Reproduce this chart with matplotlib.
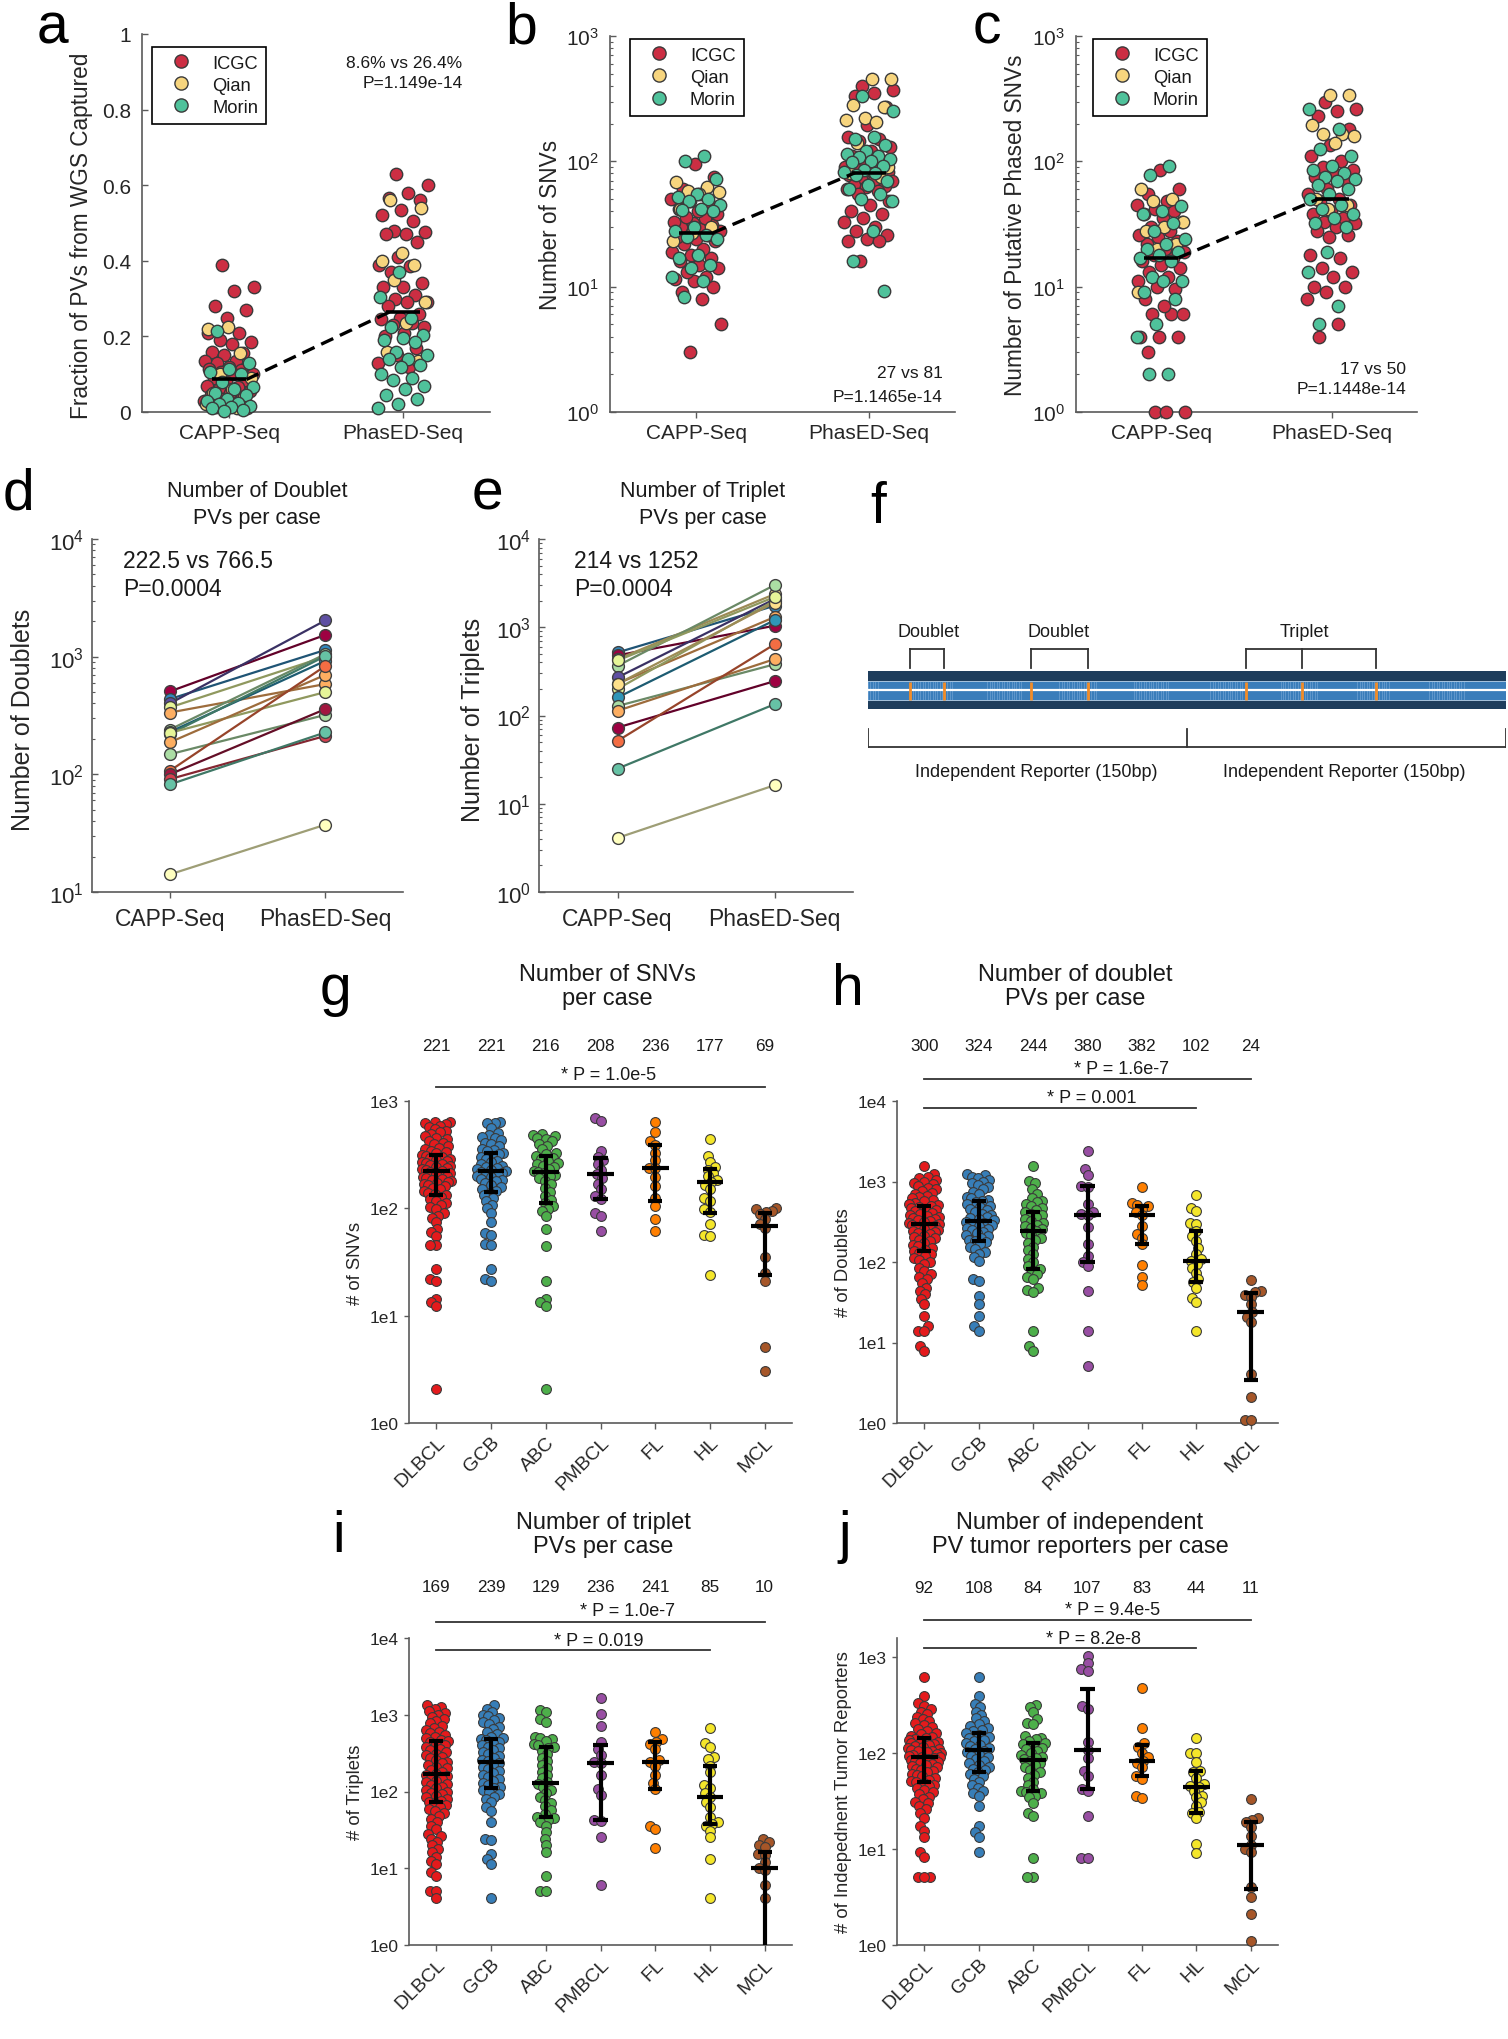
import numpy as np
import matplotlib
matplotlib.use('Agg')
import matplotlib.pyplot as plt
from matplotlib.transforms import blended_transform_factory
from matplotlib.lines import Line2D
from matplotlib.patches import Rectangle
from matplotlib.ticker import FixedLocator, NullLocator, LogLocator, NullFormatter

# ===================== DATA =====================
seq_labels = ['CAPP-Seq', 'PhasED-Seq']
cohorts = ['ICGC', 'Qian', 'Morin']
cohort_colors = ['#CC2E43', '#F7D57E', '#4FC29B']

# panel a: fraction of PVs from WGS captured
a_capp_icgc = [0.39,0.33,0.32,0.28,0.27,0.25,0.21,0.21,0.19,0.185,0.18,0.16,0.155,0.15,0.135,0.135,0.13,0.125,0.12,0.115,0.11,0.105,0.10,0.10,0.09,0.085,0.08,0.07,0.065,0.06,0.055,0.05,0.045,0.04,0.035,0.03,0.02,0.013,0.01]
a_capp_qian = [0.225,0.22,0.155,0.10,0.09,0.06,0.05,0.04,0.025,0.02,0.01]
a_capp_morin = [0.215,0.13,0.115,0.105,0.10,0.08,0.065,0.06,0.05,0.045,0.035,0.03,0.025,0.02,0.015,0.012,0.01,0.005,0.003]
a_phased_icgc = [0.63,0.60,0.58,0.565,0.56,0.535,0.52,0.505,0.48,0.475,0.47,0.47,0.45,0.41,0.39,0.385,0.37,0.34,0.33,0.33,0.31,0.30,0.29,0.29,0.28,0.26,0.25,0.245,0.235,0.23,0.225,0.21,0.20,0.17,0.15,0.13,0.12]
a_phased_qian = [0.56,0.54,0.42,0.40,0.39,0.35,0.29,0.235,0.16,0.135]
a_phased_morin = [0.37,0.305,0.25,0.225,0.205,0.195,0.19,0.185,0.16,0.15,0.14,0.14,0.125,0.12,0.10,0.09,0.085,0.07,0.06,0.045,0.035,0.02,0.01]
a_medians = [0.086, 0.264]
a_stats = ['8.6% vs 26.4%', 'P=1.149e-14']

# panel b: number of SNVs
b_capp_icgc = [3.0,5.0,8.0,9.0,10,11,11.5,12,13,14,15,16,17,18,19,20,22,23,24,25,26,27,28,29,30,31,32,33,35,36,38,40,42,45,48,50,55,60,75,95]
b_capp_qian = [68,62,58,57,55,42,30,27,23]
b_capp_morin = [110,100,72,55,52,50,48,45,42,41,40,30,28,26,25,24,18,17,15,14,12,11,8.2]
b_phased_icgc = [400,370,350,330,270,195,155,150,145,130,120,110,100,95,90,88,85,82,80,78,75,72,70,68,65,63,62,60,58,55,48,45,40,38,35,33,30,28,26,24,23,23,16]
b_phased_qian = [450,450,280,270,220,215,205,140,90,85,80,75]
b_phased_morin = [330,250,155,150,135,120,115,110,108,105,100,98,92,85,82,80,78,70,65,60,55,50,48,28,16,9.2]
b_medians = [27, 81]
b_stats = ['27 vs 81', 'P=1.1465e-14']

# panel c: number of putative phased SNVs
c_capp_icgc = [1,1,1,3,4,4,4,6,6,6,7,8,9.5,10,11,12,13,14,15,16,17,18,19,20,22,23,25,26,28,30,33,35,38,40,42,45,48,55,60,85]
c_capp_qian = [60,50,48,33,30,28,22,20,9]
c_capp_morin = [92,78,44,40,38,32,28,24,22,20,19,18,17,16,12,11,11,9,8,5,4,2,2]
c_phased_icgc = [300,260,250,230,180,135,110,100,90,85,80,75,70,60,55,50,48,45,40,38,35,33,32,30,28,26,25,18,17,14,13,12,10,10,9,8,5,4]
c_phased_qian = [340,340,195,165,165,160,140,50,45,42]
c_phased_morin = [260,180,125,110,92,85,80,75,72,70,65,60,55,50,45,42,38,35,32,30,19,13,7,5]
c_medians = [17, 50]
c_stats = ['17 vs 50', 'P=1.1448e-14']

# panel d: doublets per case (paired)
d_capp = [506, 436, 400, 370, 335, 240, 229, 220, 225, 187, 148, 107, 100, 91, 82, 14.1]
d_phased = [1530, 1140, 2030, 1000, 585, 1050, 920, 1010, 500, 700, 320, 833, 358, 212, 227, 37.3]
d_colors = ['#9E0142', '#3288BD', '#5E4FA2', '#E6F598', '#FDAE61', '#ABDDA4', '#2F95B8', '#66C2A5',
            '#E6F598', '#FDAE61', '#ABDDA4', '#F46D43', '#A2163F', '#D53E4F', '#66C2A5', '#FFFFBF']
d_stats = ['222.5 vs 766.5', 'P=0.0004']

# panel e: triplets per case (paired)
e_capp = [518, 480, 435, 365, 270, 230, 200, 160, 128, 113, 73, 51.5, 25, 4.1, 228, 420]
e_phased = [1750, 1040, 2370, 3000, 2080, 1304, 2000, 1200, 380, 435, 245, 640, 134, 16.2, 1900, 2200]
e_colors = ['#3288BD', '#9E0142', '#FEE08B', '#ABDDA4', '#5E4FA2', '#FDAE61', '#E6F598', '#2F95B8',
            '#ABDDA4', '#FDAE61', '#9E0142', '#F46D43', '#66C2A5', '#FFFFBF', '#FEE08B', '#E6F598']
e_stats = ['214 vs 1252', 'P=0.0004']

# panel f: schematic (positions in bp along two 150 bp reporters)
f_variant_pos = [19.7, 35.8, 76.6, 103.3, 177.8, 203.9, 238.7]
f_group_labels = ['Doublet', 'Doublet', 'Triplet']
f_group_members = [[19.7, 35.8], [76.6, 103.3], [177.8, 203.9, 238.7]]
f_group_label_x = [28.7, 89.8, 205.0]
f_reporter_edges = [0, 150, 300]
f_reporter_label_x = [79, 224]
f_reporter_label = 'Independent Reporter (150bp)'
f_stripe_regions = [(0, 5), (20, 40), (56, 73), (90, 108), (125, 142), (161, 177), (194, 212), (230, 246), (264, 281)]

# panels g-j: per-case counts by lymphoma subtype
cat_labels = ['DLBCL', 'GCB', 'ABC', 'PMBCL', 'FL', 'HL', 'MCL']
cat_colors = ['#E41A1C', '#377EB8', '#4DAF4A', '#984EA3', '#FF7F00', '#F4E62A', '#A65628']

g_dlbcl = [640,635,625,610,590,570,550,530,510,490,470,455,440,425,410,395,380,368,356,345,335,325,316,
           310,303,296,289,282,276,270,264,258,252,246,241,236,231,226,221,
           217,212,207,202,197,193,189,185,181,177,173,169,165,160,155,150,145,140,136,132,
           128,123,118,113,108,103,98,91,85,82,74,64,60,55,46,46,27,22,21,14.3,13.3,12.4,2.07]
g_gcb = [640,630,620,560,500,480,460,450,430,410,400,380,360,350,340,
         326,318,308,298,288,278,268,258,250,243,237,231,226,222,
         219,214,209,204,199,194,189,184,178,172,165,158,151,145,
         140,132,124,116,108,101,91,74,59,57,47,46,27,22,21]
g_abc = [490,480,470,455,440,420,400,380,355,330,318,
         306,296,286,276,266,257,249,241,233,225,218,
         212,205,198,190,180,168,155,142,130,120,
         112,105,99,95,85,64,45,21,14.3,13.3,12.4,2.07]
g_pmbcl = [700,650,340,300,280,260,230,208,190,170,150,130,123,90,85,61]
g_fl = [640,510,420,390,330,280,240,236,195,162,126,105,79,62]
g_hl = [440,308,270,245,230,215,200,185,177,165,150,126,118,98,92,71,57,55,24]
g_mcl = [101,98,95,92,88,80,72,66,35,25,21,5.06,3.07]
g_med = [221, 221, 216, 208, 236, 177, 69]
g_q1 = [132, 142, 112, 123, 117, 91, 24]
g_q3 = [314, 326, 308, 297, 387, 231, 91]

h_dlbcl = [1560,1230,1150,1100,1050,1000,960,920,880,840,800,765,730,700,670,640,615,590,565,545,525,510,
           497,485,470,455,440,425,412,400,388,376,365,355,345,335,325,316,308,300,
           292,284,276,268,260,252,244,236,228,220,212,204,196,188,180,172,164,156,148,142,
           136,130,124,118,112,106,100,94,85,78,70,65,61,55,48,44,40,35,30,21.5,16.1,14,14,9.1,7.9]
h_gcb = [1230,1200,1150,1100,1050,1000,950,900,850,800,750,700,650,620,590,
         574,550,520,500,480,460,440,420,400,380,360,350,340,330,
         318,308,298,288,278,268,258,248,238,228,218,208,198,190,
         183,175,165,155,145,135,125,115,103,61,58,38,30,21.5,16.1,14]
h_abc = [1560,1010,950,800,700,620,580,550,520,495,470,440,
         420,400,380,360,340,320,305,290,278,265,255,
         240,228,214,200,185,170,155,140,125,110,100,90,
         83,78,70,65,61,48,45,42,14,9.1,7.9]
h_pmbcl = [2400,1420,1200,880,850,522,420,390,380,274,166,119,100,88,44,14,5.06]
h_fl = [865,537,510,490,460,420,382,281,220,200,166,91,66,51.5]
h_hl = [675,475,432,309,295,244,210,183,150,125,110,102,94,85,74,61,56,48,36,31.5,14]
h_mcl = [60,44,42,39,37,30,24,21,18,4.06,2.08,1.1,1.1]
h_med = [300, 324, 244, 380, 382, 102, 24]
h_q1 = [138, 183, 83, 100, 166, 55.7, 3.45]
h_q3 = [497, 574, 420, 881, 497, 244, 41]

i_dlbcl = [1325,1250,1180,1110,1050,990,930,870,820,770,720,680,640,605,575,545,520,495,470,455,
           440,420,400,380,362,345,328,312,297,283,270,257,245,233,222,211,200,190,180,170,
           165,158,151,144,138,132,126,120,115,110,105,100,96,92,88,84,80,76,73,
           70,66,62,59,56,52,48,44,40,36,32,28,26,24,22,19.8,18,16.2,14,12.5,11.4,9,8,5.1,5.1,4.06]
i_gcb = [1325,1200,1100,1000,950,900,850,800,750,700,650,600,560,520,500,
         486,465,445,425,405,385,365,345,325,305,290,275,260,248,
         236,222,210,198,187,176,166,156,146,137,128,120,114,
         110,104,98,92,86,80,72,63,56,40,24,23,15.4,13.3,11.4,4.06]
i_abc = [1140,1100,870,800,520,500,480,450,420,400,385,
         370,340,305,275,248,224,202,182,164,148,134,
         124,114,104,95,86,78,71,64,57,51,
         46,45,43,40,36,29.5,24,19.8,16.2,8,5.1,5.1]
i_pmbcl = [1650,1030,710,440,360,300,240,233,162,108,90,42,41,25.4,6.06]
i_fl = [594,480,440,410,360,254,241,218,162,130,108,36,32,18.3]
i_hl = [670,430,379,280,262,218,178,122,112,95,85,72.6,62.6,46,40,37.9,36,30.9,25.4,13.2,4.06]
i_mcl = [24.1,22,20.2,19,15.4,15,12,10,9.5,6.06,4.06]
i_med = [169, 239, 129, 236, 241, 85, 10]
i_q1 = [72.6, 110, 46.3, 42, 108, 37.9, 0.3]
i_q3 = [449, 486, 379, 406, 440, 218, 16.2]

j_dlbcl = [625,393,330,310,290,270,255,240,228,216,205,195,186,178,170,163,157,151,146,
           143,140,137,134,131,128,125,122,119,116,113,110,108,106,104,102,100,98,96,94,92,
           91,89,87,85,83,81,79,77,75,73,71,69,67,65,63,61,59,57,55,53,51,50,
           49,47,45,43,41,39,37,35,33,31,30,28,26,24,21.3,17.5,15.5,13.2,9.2,8.2,5.06,5.06,5.06]
j_gcb = [625,393,322,300,270,250,230,215,200,190,182,175,168,
         160,154,148,142,137,132,127,122,118,114,110,
         106,102,98,94,90,86,82,78,75,72,69,66,
         63,60,57,54,50,46,43,40,38,36,28,17.5,14.9,13.2,9.2]
j_abc = [320,305,265,225,205,200,150,145,140,135,128,
         124,119,114,109,104,100,96,92,89,86,
         83,79,75,71,67,63,59,55,50,46,42,
         40.4,39,38,36,34.5,30.5,24,22,8,5.06,5.06]
j_pmbcl = [1025,870,745,720,310,287,129,107,89.6,65,57,42,40,22.3,8,8]
j_fl = [480,184,126,115,101,90,83,78,71,58,54,35.3,34]
j_hl = [145,101,99,80,65,63,55,48,45,44,40,36,34.5,31,28,24.5,24,21.3,11.2,9.1]
j_mcl = [33.6,21.3,20,18.9,17,13.7,11,10,9.2,3.98,3.13,2.1,1.1]
j_med = [92, 108, 84, 107, 83, 44, 11]
j_q1 = [50, 63.6, 40.4, 42, 58, 24, 3.83]
j_q3 = [145, 163, 126, 461, 120, 65, 18.9]

# ===================== FIGURE =====================
plt.rcParams['font.family'] = ['Liberation Sans', 'DejaVu Sans']
plt.rcParams['mathtext.fontset'] = 'custom'
plt.rcParams['mathtext.rm'] = 'Liberation Sans'
plt.rcParams['mathtext.it'] = 'Liberation Sans:italic'
plt.rcParams['mathtext.bf'] = 'Liberation Sans:bold'

W, H = 1508, 2040
fig = plt.figure(figsize=(W / 100, H / 100), dpi=100)
fig.patch.set_facecolor('white')

TXT = '#1a1a1a'
TICKC = '#262626'
SPINE = '#5a5a5a'


def fx(px):
    return px / W


def fy(py):
    return 1 - py / H


def add_ax(l, t, r, b):
    return fig.add_axes([l / W, 1 - b / H, (r - l) / W, (b - t) / H])


def box_off(ax, lw=1.2):
    for s in ['top', 'right']:
        ax.spines[s].set_visible(False)
    for s in ['left', 'bottom']:
        ax.spines[s].set_color(SPINE)
        ax.spines[s].set_linewidth(lw)


def jitter_x(center, n, half):
    k = np.arange(n)
    return center + ((k * 0.6180339887 + 0.37) % 1.0 - 0.5) * 2 * half


def top_panel(ax, capp_groups, phased_groups, medians, logy, ylim, ylabel, leg_anchor):
    if logy:
        ax.set_yscale('log')
    ax.set_xlim(0.5, 2.5)
    ax.set_ylim(*ylim)
    for ci, groups in enumerate([capp_groups, phased_groups]):
        n_all = sum(len(g) for g in groups)
        xs = jitter_x(ci + 1, n_all, 0.145)
        start = 0
        for gi, g in enumerate(groups):
            n = len(g)
            ax.scatter(xs[start:start + n], g, s=80, c=cohort_colors[gi], edgecolors='#3a3a3a',
                       linewidths=1.0, zorder=3, clip_on=False)
            start += n
    for ci, m in enumerate(medians):
        ax.plot([ci + 1 - 0.1, ci + 1 + 0.1], [m, m], color='black', lw=2.6, zorder=6,
                solid_capstyle='butt')
    ax.plot([1.1, 1.92], medians, color='black', lw=2.4, ls=(0, (4, 2.2)), zorder=6)
    box_off(ax)
    ax.set_xticks([1, 2])
    ax.set_xticklabels(seq_labels)
    ax.tick_params(axis='x', direction='out', length=4, width=1, color=SPINE,
                   labelcolor=TICKC, labelsize=15, pad=4)
    ax.tick_params(axis='y', which='major', direction='in', length=4, width=1, color=SPINE,
                   labelcolor=TICKC, labelsize=15, pad=8)
    ax.tick_params(axis='y', which='minor', direction='in', length=2.5, width=0.8, color=SPINE)
    ax.set_ylabel(ylabel, fontsize=16.3, color=TICKC)
    handles = [Line2D([0], [0], marker='o', ls='', mfc=c, mec='#3a3a3a', mew=1.0, ms=9.5)
               for c in cohort_colors]
    leg = ax.legend(handles, cohorts, loc='upper left', bbox_to_anchor=leg_anchor,
                    borderaxespad=0, frameon=True, fancybox=False, edgecolor='black',
                    fontsize=13.2, handlelength=2.3, handletextpad=0.55, labelspacing=0.28,
                    borderpad=0.42, framealpha=1)
    leg.get_frame().set_linewidth(1.2)
    for t in leg.get_texts():
        t.set_color(TXT)


# ---------- panel a ----------
ax_a = add_ax(142, 35, 490, 413)
top_panel(ax_a, [a_capp_icgc, a_capp_qian, a_capp_morin], [a_phased_icgc, a_phased_qian, a_phased_morin],
          a_medians, False, (0, 1), 'Fraction of PVs from WGS Captured', (0.029, 0.966))
ax_a.set_yticks([0, 0.2, 0.4, 0.6, 0.8, 1])
ax_a.set_yticklabels(['0', '0.2', '0.4', '0.6', '0.8', '1'])
ax_a.yaxis.set_label_coords(-0.141, 0.47)
fig.text(fx(462), fy(63), a_stats[0], ha='right', va='center', fontsize=12.5, color=TXT)
fig.text(fx(463), fy(83), a_stats[1], ha='right', va='center', fontsize=12.5, color=TXT)

# ---------- panel b ----------
ax_b = add_ax(610, 37, 955, 413)
top_panel(ax_b, [b_capp_icgc, b_capp_qian, b_capp_morin], [b_phased_icgc, b_phased_qian, b_phased_morin],
          b_medians, True, (1, 1000), 'Number of SNVs', (0.058, 0.992))
ax_b.yaxis.set_major_locator(FixedLocator([1, 10, 100, 1000]))
ax_b.yaxis.set_label_coords(-0.139, 0.5)
fig.text(fx(943), fy(373), b_stats[0], ha='right', va='center', fontsize=12.5, color=TXT)
fig.text(fx(943), fy(397), b_stats[1], ha='right', va='center', fontsize=12.5, color=TXT)

# ---------- panel c ----------
ax_c = add_ax(1076, 37, 1417, 413)
top_panel(ax_c, [c_capp_icgc, c_capp_qian, c_capp_morin], [c_phased_icgc, c_phased_qian, c_phased_morin],
          c_medians, True, (1, 1000), 'Number of Putative Phased SNVs', (0.05, 0.992))
ax_c.yaxis.set_major_locator(FixedLocator([1, 10, 100, 1000]))
ax_c.yaxis.set_label_coords(-0.144, 0.5)
fig.text(fx(1406), fy(369), c_stats[0], ha='right', va='center', fontsize=12.5, color=TXT)
fig.text(fx(1406), fy(389), c_stats[1], ha='right', va='center', fontsize=12.5, color=TXT)


# ---------- panels d, e ----------
def darker(c, f=0.62):
    r, g, b = matplotlib.colors.to_rgb(c)
    return (r * f, g * f, b * f)


def paired_panel(ax, capp, phased, colors, ylim, yticks, ylabel, title, title_x, stats, stats_x):
    ax.set_yscale('log')
    ax.set_xlim(0.5, 2.5)
    ax.set_ylim(*ylim)
    for c0, c1, col in zip(capp, phased, colors):
        ax.plot([1, 2], [c0, c1], color=darker(col), lw=1.6, zorder=2)
    for c0, c1, col in zip(capp, phased, colors):
        ax.plot([1, 2], [c0, c1], ls='', marker='o', ms=8.5, mfc=col, mec='#404040', mew=1.0,
                zorder=3, clip_on=False)
    box_off(ax)
    ax.set_xticks([1, 2])
    ax.set_xticklabels(seq_labels)
    ax.yaxis.set_major_locator(FixedLocator(yticks))
    ax.yaxis.set_minor_locator(LogLocator(base=10, subs=np.arange(2, 10)))
    ax.yaxis.set_minor_formatter(NullFormatter())
    ax.tick_params(axis='x', direction='out', length=4, width=1, color=SPINE,
                   labelcolor=TICKC, labelsize=16.5, pad=7)
    ax.tick_params(axis='y', which='major', direction='in', length=4, width=1, color=SPINE,
                   labelcolor=TICKC, labelsize=16, pad=6)
    ax.tick_params(axis='y', which='minor', direction='in', length=2.2, width=0.8, color=SPINE)
    ax.set_ylabel(ylabel, fontsize=18, color=TICKC)
    fig.text(fx(title_x), fy(505), title, ha='center', va='center', fontsize=15.5, color=TXT,
             linespacing=1.35)
    fig.text(fx(stats_x), fy(562), stats[0], ha='left', va='center', fontsize=16.5, color=TXT)
    fig.text(fx(stats_x), fy(590), stats[1], ha='left', va='center', fontsize=16.5, color=TXT)


ax_d = add_ax(92, 540, 403, 893)
paired_panel(ax_d, d_capp, d_phased, d_colors, (10, 1e4), [10, 100, 1000, 10000], 'Number of Doublets',
             'Number of Doublet\nPVs per case', 257, d_stats, 123)
ax_d.yaxis.set_label_coords(-0.183, 0.49)

ax_e = add_ax(539, 540, 853, 893)
paired_panel(ax_e, e_capp, e_phased, e_colors, (1, 1e4), [1, 10, 100, 1000, 10000], 'Number of Triplets',
             'Number of Triplet\nPVs per case', 703, e_stats, 574)
ax_e.yaxis.set_label_coords(-0.172, 0.49)

# ---------- panel f (schematic) ----------
ax_f = add_ax(868, 600, 1506, 800)
ax_f.set_xlim(0, 300)
ax_f.set_ylim(800, 600)
ax_f.axis('off')
ax_f.add_patch(Rectangle((0, 672), 300, 9.5, facecolor='#1E3D5C', lw=0))
ax_f.add_patch(Rectangle((0, 681.5), 300, 19.5, facecolor='#3A7DBA', lw=0))
ax_f.add_patch(Rectangle((0, 701), 300, 9, facecolor='#1E3D5C', lw=0))
for (s0, s1) in f_stripe_regions:
    for xx in np.arange(s0, s1, 1.15):
        ax_f.plot([xx, xx], [682.5, 700], color='#8DB8E2', lw=0.7, alpha=0.45)
ax_f.plot([0, 300], [682, 682], color='#A8C4DE', lw=0.7)
ax_f.plot([0, 300], [700.5, 700.5], color='#A8C4DE', lw=0.7)
ax_f.plot([0, 300], [691.3, 691.3], color='white', lw=1.6)
for p in f_variant_pos:
    ax_f.plot([p, p], [682.5, 700.5], color='#F28C28', lw=2.0, solid_capstyle='butt')
for lab, mem, lx in zip(f_group_labels, f_group_members, f_group_label_x):
    top, bot = 650, 669
    ax_f.plot([mem[0], mem[-1]], [top, top], color='#333333', lw=1.3)
    for p in mem:
        ax_f.plot([p, p], [top, bot], color='#333333', lw=1.3)
    ax_f.text(lx, 633, lab, ha='center', va='center', fontsize=13, color=TXT)
ax_f.plot([f_reporter_edges[0], f_reporter_edges[-1]], [748, 748], color='#333333', lw=1.3)
for p in f_reporter_edges:
    ax_f.plot([p, p], [730, 748], color='#333333', lw=1.3)
for lx in f_reporter_label_x:
    ax_f.text(lx, 773, f_reporter_label, ha='center', va='center', fontsize=13, color=TXT)


# ---------- panels g-j (swarm) ----------
def swarm_x(ax, xc, vals, d=6.5, wmax=19.0):
    vals = np.asarray(vals, float)
    pix = ax.transData.transform(np.column_stack([np.full(len(vals), float(xc)), vals]))
    ys = pix[:, 1]
    order = np.argsort(ys)
    pxs, pys = [], []
    offs = np.zeros(len(vals))
    for i in order:
        y = ys[i]
        near = [(px, py) for px, py in zip(pxs, pys) if abs(py - y) < d]
        cands = [0.0]
        for px, py in near:
            dx = np.sqrt(d * d - (py - y) ** 2)
            cands.append(px + dx)
            cands.append(px - dx)
        cands.sort(key=lambda c: (abs(c), c))
        chosen = cands[-1]
        for c in cands:
            if all((c - px) ** 2 + (y - py) ** 2 >= d * d - 1e-6 for px, py in near):
                chosen = c
                break
        pxs.append(chosen)
        pys.append(y)
        offs[i] = chosen
    offs = wmax * np.tanh(offs / wmax)
    return ax.transData.inverted().transform(np.column_stack([pix[:, 0] + offs, ys]))[:, 0]


def swarm_panel(ax, groups, med, q1, q3, ylim, ytick_vals, ytick_labels, ylabel,
                title, title_xy, count_y, plines):
    ax.set_yscale('log')
    ax.set_xlim(0.5, 7.5)
    ax.set_ylim(*ylim)
    for k, vals in enumerate(groups):
        xs = swarm_x(ax, k + 1, vals)
        ax.scatter(xs, vals, s=50, c=cat_colors[k], edgecolors='#3a3a3a', linewidths=0.8,
                   zorder=3, clip_on=False)
    for k in range(len(groups)):
        x = k + 1
        ax.plot([x, x], [q1[k], q3[k]], color='black', lw=3.0, zorder=6, solid_capstyle='butt')
        for q in (q1[k], q3[k]):
            ax.plot([x - 0.13, x + 0.13], [q, q], color='black', lw=3.0, zorder=6,
                    solid_capstyle='butt')
        ax.plot([x - 0.245, x + 0.245], [med[k], med[k]], color='black', lw=3.0, zorder=6,
                solid_capstyle='butt')
    box_off(ax)
    ax.set_xticks(range(1, 8))
    ax.set_xticklabels(cat_labels, rotation=45, ha='right', va='top', rotation_mode='anchor')
    ax.yaxis.set_major_locator(FixedLocator(ytick_vals))
    ax.yaxis.set_minor_locator(NullLocator())
    ax.set_yticklabels(ytick_labels)
    ax.tick_params(axis='x', direction='out', length=4.5, width=1, color=SPINE,
                   labelcolor=TICKC, labelsize=14, pad=3)
    ax.tick_params(axis='y', direction='out', length=3.5, width=1, color=SPINE,
                   labelcolor=TICKC, labelsize=12.5, pad=4)
    ax.set_ylabel(ylabel, fontsize=13.3, color=TICKC)
    ax.yaxis.set_label_coords(-0.117, 0.5)
    fig.text(fx(title_xy[0]), fy(title_xy[1]), title, ha='center', va='center', fontsize=17,
             color=TXT, linespacing=1.15)
    bt = blended_transform_factory(ax.transData, fig.transFigure)
    for k, m in enumerate(med):
        ax.text(k + 1, fy(count_y), f'{m:g}', transform=bt, ha='center', va='center',
                fontsize=12.3, color=TXT, clip_on=False)
    for (x0, x1, ly, txt, tx, ty) in plines:
        ax.plot([x0, x1], [fy(ly), fy(ly)], transform=bt, color='#333333', lw=1.3,
                clip_on=False, zorder=7)
        fig.text(fx(tx), fy(ty), txt, ha='center', va='center', fontsize=13, color=TXT)


ax_g = add_ax(409, 1102, 792, 1424)
swarm_panel(ax_g, [g_dlbcl, g_gcb, g_abc, g_pmbcl, g_fl, g_hl, g_mcl], g_med, g_q1, g_q3,
            (1, 1000), [1, 10, 100, 1000], ['1e0', '1e1', '1e2', '1e3'], '# of SNVs',
            'Number of SNVs\nper case', (607, 987), 1047,
            [(1, 7, 1088, '* P = 1.0e-5', 609, 1075)])

ax_h = add_ax(897, 1102, 1278, 1424)
swarm_panel(ax_h, [h_dlbcl, h_gcb, h_abc, h_pmbcl, h_fl, h_hl, h_mcl], h_med, h_q1, h_q3,
            (1, 1e4), [1, 10, 100, 1000, 10000], ['1e0', '1e1', '1e2', '1e3', '1e4'], '# of Doublets',
            'Number of doublet\nPVs per case', (1075, 987), 1047,
            [(1, 7, 1080, '* P = 1.6e-7', 1122, 1069), (1, 6, 1109, '* P = 0.001', 1092, 1099)])

ax_i = add_ax(409, 1639, 792, 1946)
swarm_panel(ax_i, [i_dlbcl, i_gcb, i_abc, i_pmbcl, i_fl, i_hl, i_mcl], i_med, i_q1, i_q3,
            (1, 1e4), [1, 10, 100, 1000, 10000], ['1e0', '1e1', '1e2', '1e3', '1e4'], '# of Triplets',
            'Number of triplet\nPVs per case', (603, 1535), 1588,
            [(1, 7, 1623, '* P = 1.0e-7', 628, 1612), (1, 6, 1651, '* P = 0.019', 599, 1641)])

ax_j = add_ax(897, 1639, 1278, 1946)
swarm_panel(ax_j, [j_dlbcl, j_gcb, j_abc, j_pmbcl, j_fl, j_hl, j_mcl], j_med, j_q1, j_q3,
            (1, 1580), [1, 10, 100, 1000], ['1e0', '1e1', '1e2', '1e3'], '# of Indepednent Tumor Reporters',
            'Number of independent\nPV tumor reporters per case', (1080, 1535), 1589,
            [(1, 7, 1621, '* P = 9.4e-5', 1113, 1611), (1, 6, 1649, '* P = 8.2e-8', 1093, 1639)])

# ---------- panel letters ----------
letters = [('a', 37, 43), ('b', 505, 43), ('c', 973, 43), ('d', 3, 510), ('e', 472, 510),
           ('f', 870, 523), ('g', 320, 1005), ('h', 832, 1005), ('i', 332, 1552), ('j', 838, 1552)]
for lt, lx, ly in letters:
    fig.text(fx(lx), fy(ly), lt, ha='left', va='baseline', fontsize=41, color='black')

fig.savefig('out.png', dpi=100, facecolor='white')
